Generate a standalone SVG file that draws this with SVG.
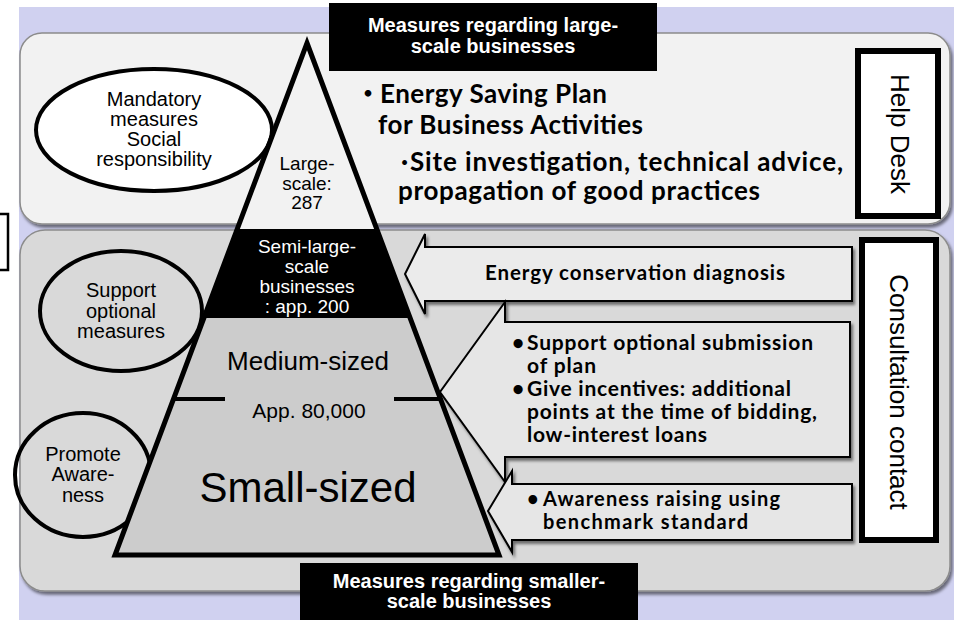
<svg xmlns="http://www.w3.org/2000/svg" width="954" height="620" viewBox="0 0 954 620">
<defs>
<style>
.ar{font-family:"Liberation Sans",Arial,sans-serif;fill:#000}
.arb{font-family:"Liberation Sans",Arial,sans-serif;font-weight:bold;fill:#fff}
.cal{font-family:Lato,"Noto Sans CJK JP",sans-serif;font-weight:bold;fill:#000}
.big{font-size:26px}
.sm{font-size:21px}
.mid{text-anchor:middle}
.pan{stroke:#8c8c8c;stroke-width:1.5}
.arrow{stroke:#000;stroke-width:2;stroke-linejoin:miter}
.oval{stroke:#000;stroke-width:4}
.tag{fill:#fff;stroke:#000;stroke-width:6}
</style>
<filter id="sh" x="-5%" y="-5%" width="112%" height="115%">
<feDropShadow dx="2" dy="3" stdDeviation="1.8" flood-color="#000" flood-opacity="0.5"/>
</filter>
</defs>

<g id="background">
<rect x="0" y="0" width="954" height="620" fill="#fff"/>
<rect x="19" y="7" width="935" height="613" fill="#d0d1f0"/>
<path d="M0,214 H8 V270 H0" fill="none" stroke="#000" stroke-width="2.5"/>
</g>

<g id="panel-large">
<rect class="pan" x="20" y="33" width="930" height="191" rx="22" fill="#f2f2f2" filter="url(#sh)"/>
</g>
<g id="panel-small">
<rect class="pan" x="20" y="230" width="930" height="361" rx="25" fill="#d9d9d9" filter="url(#sh)"/>
</g>

<g id="node-mandatory">
<ellipse class="oval" cx="154" cy="130" rx="118" ry="61" fill="#fff"/>
<text class="ar mid" font-size="20"><tspan x="154" y="106">Mandatory</tspan><tspan x="154" y="126">measures</tspan><tspan x="154" y="146">Social</tspan><tspan x="154" y="166">responsibility</tspan></text>
</g>
<g id="node-support">
<ellipse class="oval" cx="121" cy="311" rx="81" ry="60" fill="none"/>
<text class="ar mid" font-size="20"><tspan x="121" y="297">Support</tspan><tspan x="121" y="317.5">optional</tspan><tspan x="121" y="338">measures</tspan></text>
</g>
<g id="node-promote">
<ellipse class="oval" cx="83" cy="475" rx="68" ry="62" fill="none"/>
<text class="ar mid" font-size="20"><tspan x="83" y="461">Promote</tspan><tspan x="83" y="481">Aware-</tspan><tspan x="83" y="502">ness</tspan></text>
</g>

<g id="connectors">
<g id="arrow-diagnosis">
<polygon class="arrow" points="852,247 425,247 425,234 405,274 425,314 425,301 852,301" fill="#ebebeb" filter="url(#sh)"/>
<text class="cal" font-size="20.5" x="485" y="280" textLength="300" lengthAdjust="spacing">Energy conservation diagnosis</text>
</g>
<g id="arrow-medium">
<polygon class="arrow" points="850,322 505,322 505,302 440,392 505,482 505,457 850,457" fill="#e6e6e6" filter="url(#sh)"/>
<text class="cal sm" x="512" y="350">•</text>
<text class="cal sm" x="527" y="350" textLength="286" lengthAdjust="spacing">Support optional submission</text>
<text class="cal sm" x="527" y="373" textLength="69" lengthAdjust="spacing">of plan</text>
<text class="cal sm" x="512" y="396">•</text>
<text class="cal sm" x="527" y="396" textLength="264" lengthAdjust="spacing">Give incentives: additional</text>
<text class="cal sm" x="527" y="419" textLength="290" lengthAdjust="spacing">points at the time of bidding,</text>
<text class="cal sm" x="527" y="442" textLength="180" lengthAdjust="spacing">low-interest loans</text>
</g>
<g id="arrow-awareness">
<polygon class="arrow" points="852,484 512,484 512,471 488,511 512,552 512,540 852,540" fill="#e6e6e6" filter="url(#sh)"/>
<text class="cal" font-size="20" x="527" y="505.5">•</text>
<text class="cal" font-size="20" x="543" y="505.5" textLength="237" lengthAdjust="spacing">Awareness raising using</text>
<text class="cal" font-size="20" x="543" y="528.5" textLength="205" lengthAdjust="spacing">benchmark standard</text>
</g>
</g>

<g id="node-pyramid">
<polygon points="307,43 376.75,229 237.25,229" fill="#f2f2f2"/>
<polygon points="237.25,229 376.75,229 410.1,318 203.9,318" fill="#000"/>
<text class="ar mid" font-size="19"><tspan x="307" y="170">Large-</tspan><tspan x="307" y="189.5">scale:</tspan><tspan x="307" y="209">287</tspan></text>
<text class="ar mid" font-size="19" style="fill:#fff"><tspan x="307" y="253">Semi-large-</tspan><tspan x="307" y="273">scale</tspan><tspan x="307" y="293">businesses</tspan><tspan x="307" y="313">: app. 200</tspan></text>
<polygon points="203.9,318 410.1,318 499,555 115,555" fill="#cccccc"/>
<path d="M173,399 H225 M394,399 H441" stroke="#000" stroke-width="4"/>
<text class="ar mid" font-size="26" x="308" y="370">Medium-sized</text>
<text class="ar mid" font-size="21" x="309" y="418">App. 80,000</text>
<text class="ar mid" font-size="42" x="308" y="502">Small-sized</text>
<polygon points="307,43 499,555 115,555" fill="none" stroke="#000" stroke-width="5"/>
</g>

<g id="node-large-measures">
<text class="cal big" x="355" y="103">・</text>
<text class="cal big" x="380" y="103" textLength="227" lengthAdjust="spacing">Energy Saving Plan</text>
<text class="cal big" x="378" y="134" textLength="265" lengthAdjust="spacing">for Business Activities</text>
<text class="cal big" x="401" y="171">·</text>
<text class="cal big" x="410" y="171" textLength="433" lengthAdjust="spacing">Site investigation, technical advice,</text>
<text class="cal big" x="398" y="200" textLength="362" lengthAdjust="spacing">propagation of good practices</text>
</g>

<g id="node-title-large">
<rect x="329" y="3" width="328" height="68" fill="#000"/>
<text class="arb mid" font-size="20"><tspan x="493" y="32">Measures regarding large-</tspan><tspan x="493" y="53">scale businesses</tspan></text>
</g>
<g id="node-title-small">
<rect x="300" y="563" width="338" height="57" fill="#000"/>
<text class="arb mid" font-size="20"><tspan x="469" y="588">Measures regarding smaller-</tspan><tspan x="469" y="608">scale businesses</tspan></text>
</g>

<g id="node-help-desk">
<rect class="tag" x="858" y="51" width="80" height="165" stroke-width="5.5"/>
<text class="ar mid" font-size="26" transform="translate(891,134) rotate(90)" x="0" y="0">Help Desk</text>
</g>
<g id="node-consultation">
<rect class="tag" x="862" y="240" width="74" height="300"/>
<text class="ar mid" font-size="26" transform="translate(890,392) rotate(90)" x="0" y="0">Consultation contact</text>
</g>
</svg>
